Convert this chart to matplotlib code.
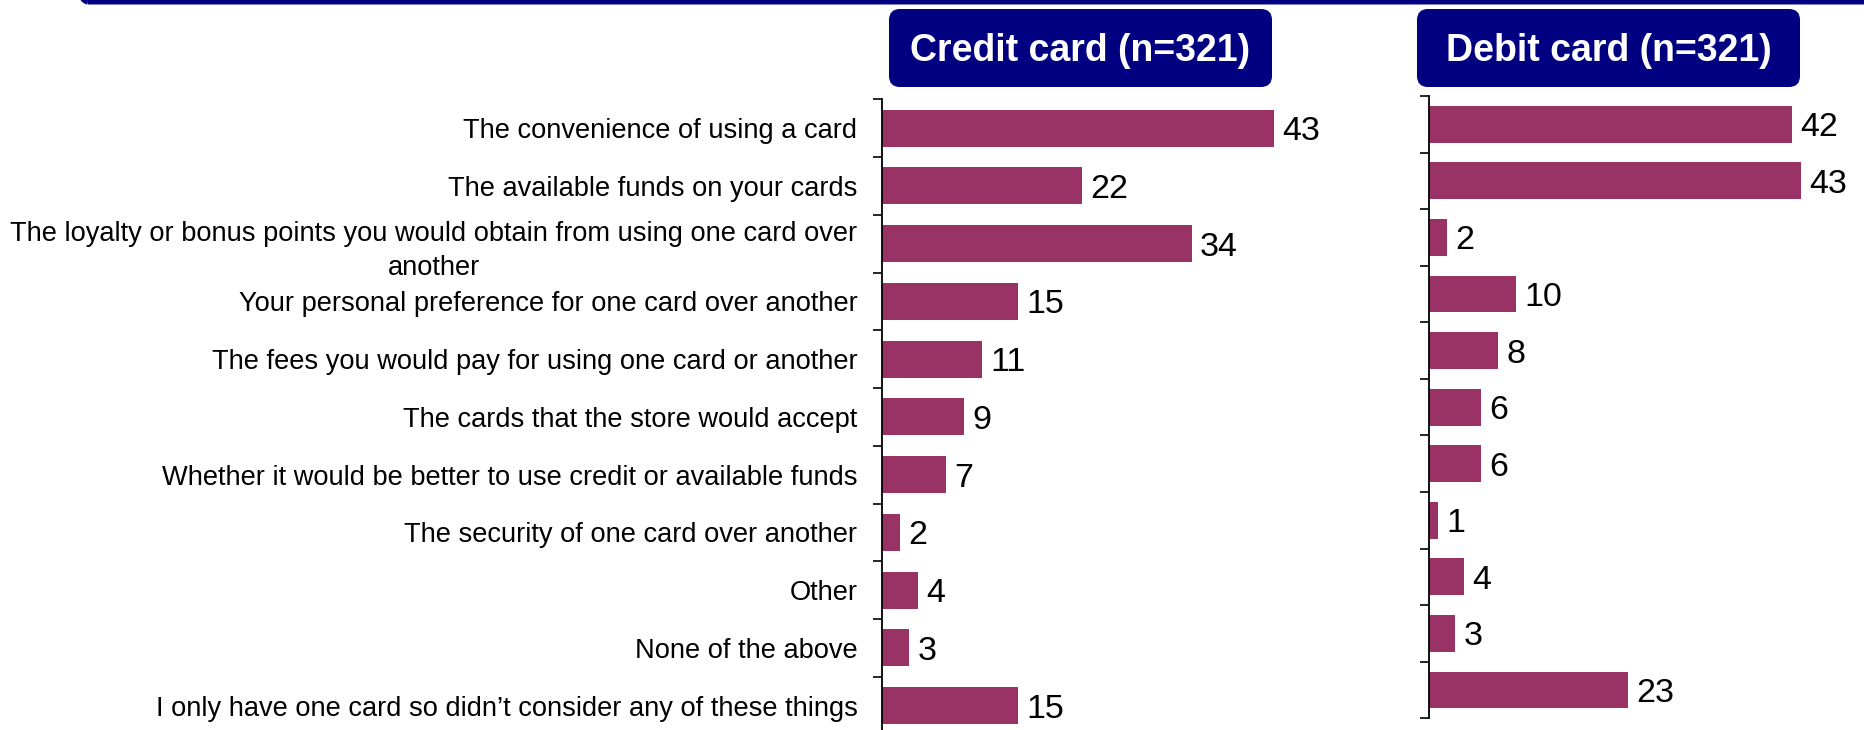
import numpy as np
import matplotlib
matplotlib.use("Agg")
import matplotlib.pyplot as plt
from matplotlib.patches import FancyBboxPatch

plt.rcParams['font.family'] = ['Liberation Sans', 'DejaVu Sans']

# data
categories = [
    "The convenience of using a card",
    "The available funds on your cards",
    "The loyalty or bonus points you would obtain from using one card over\nanother",
    "Your personal preference for one card over another",
    "The fees you would pay for using one card or another",
    "The cards that the store would accept",
    "Whether it would be better to use credit or available funds",
    "The security of one card over another",
    "Other",
    "None of the above",
    "I only have one card so didn\u2019t consider any of these things",
]
credit = [43, 22, 34, 15, 11, 9, 7, 2, 4, 3, 15]
debit = [42, 43, 2, 10, 8, 6, 6, 1, 4, 3, 23]
panel_titles = ["Credit card (n=321)", "Debit card (n=321)"]

bar_color = "#993366"
navy = "#000080"
W, H = 1865, 730

fig = plt.figure(figsize=(W / 100, H / 100), dpi=100)


def px_axes(x0, y_top, x1, y_bot):
    # pixel box (from top-left) -> figure fraction
    return [x0 / W, 1 - y_bot / H, (x1 - x0) / W, (y_bot - y_top) / H]


ax1 = fig.add_axes(px_axes(881.7, 99.3, 1300, 734.5))
ax2 = fig.add_axes(px_axes(1429.3, 96, 1850, 718.3))

n = len(categories)
y = np.arange(n)

for ax, vals, xmax, bh in [(ax1, credit, 418.3 / 9.12, 0.64), (ax2, debit, 420.7 / 8.64, 0.65)]:
    ax.barh(y, vals, height=bh, color=bar_color, zorder=2)
    ax.set_xlim(0, xmax)
    ax.set_ylim(n - 0.5, -0.5)
    for s in ["top", "right", "bottom"]:
        ax.spines[s].set_visible(False)
    ax.spines["left"].set_linewidth(1.3)
    ax.xaxis.set_visible(False)
    ax.set_yticks(np.arange(n + 1) - 0.5)
    ax.set_yticklabels([])
    ax.tick_params(axis="y", which="major", direction="out", length=6.5, width=1.2)
    for yi, v in zip(y, vals):
        ax.annotate(str(v), (v, yi), xytext=(6, 0), textcoords="offset points",
                    va="center_baseline", ha="left", fontsize=24.5, color="black")

# category labels on the credit axis
ax1.set_yticks(y, minor=True)
ax1.set_yticklabels(categories, minor=True, fontsize=19.6)
ax1.tick_params(axis="y", which="minor", length=0, pad=17.5)
for lab in ax1.get_yticklabels(minor=True):
    lab.set_multialignment("center")
    lab.set_linespacing(1.4)

# header boxes
for (x0, x1), title in zip([(889, 1272), (1417, 1800)], panel_titles):
    box = FancyBboxPatch((x0 / 100, (H - 87) / 100), (x1 - x0) / 100, 78 / 100,
                         boxstyle="round,pad=0,rounding_size=0.11",
                         transform=fig.dpi_scale_trans, facecolor=navy,
                         edgecolor="none")
    fig.patches.append(box)
    fig.text((x0 + x1) / 2 / W, 1 - 51 / H, title, color="white",
             fontsize=27, fontweight="bold", ha="center", va="center")

# top frame border
frame = FancyBboxPatch((68 / 100, (H - 1) / 100), 30, 2,
                       boxstyle="round,pad=0,rounding_size=0.2",
                       transform=fig.dpi_scale_trans, facecolor="none",
                       edgecolor=navy, linewidth=5)
fig.patches.append(frame)

fig.savefig("out.png", dpi=100)
